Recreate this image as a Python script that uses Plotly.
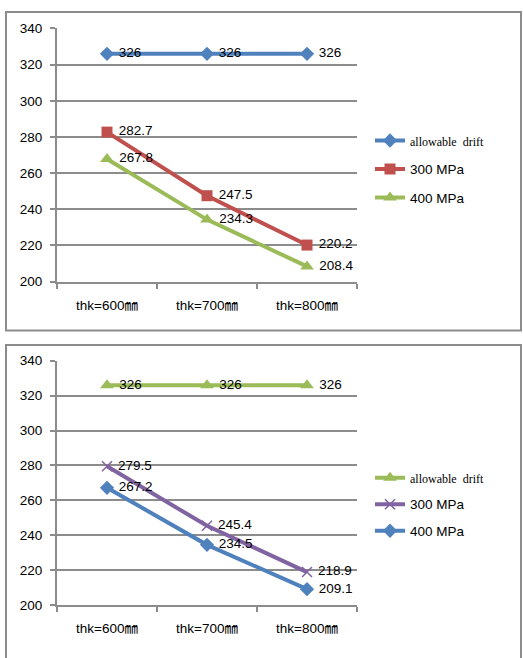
import plotly.graph_objects as go

W, H = 523, 658

categories = ["thk=600㎜", "thk=700㎜", "thk=800㎜"]
y_ticks = [200, 220, 240, 260, 280, 300, 320, 340]

# upper chart
top_allowable = [326, 326, 326]
top_300 = [282.7, 247.5, 220.2]
top_400 = [267.8, 234.3, 208.4]

# lower chart
bot_allowable = [326, 326, 326]
bot_300 = [279.5, 245.4, 218.9]
bot_400 = [267.2, 234.5, 209.1]

BLUE = "#4F81BD"
RED = "#C0504D"
GREEN = "#9BBB59"
PURPLE = "#8064A2"
GRAY = "#8C8C8C"
FONT = "Liberation Sans, Arial, sans-serif"

SERIF_NAME = '<span style="font-family:Liberation Serif, Times New Roman, serif;font-size:12px">allowable  drift</span>'


def px_x(p):
    return p / W


def px_y(p):
    return 1 - p / H


def series(x, y, name, color, symbol, size, xa, ya, legend, mline=None):
    marker = dict(symbol=symbol, size=size, color=color)
    if mline:
        marker["line"] = mline
    return go.Scatter(
        x=x, y=y, name=name, xaxis=xa, yaxis=ya, legend=legend,
        legendgroup=legend + name,
        mode="lines+markers+text",
        line=dict(color=color, width=4),
        marker=marker,
        text=["\u00a0" + f"{v:g}" for v in y],
        textposition="middle right",
        textfont=dict(family=FONT, size=13.5, color="#000"),
        cliponaxis=False,
    )


fig = go.Figure()
fig.add_trace(series(categories, top_allowable, SERIF_NAME, BLUE, "diamond", 11, "x", "y", "legend"))
fig.add_trace(series(categories, top_300, "300 MPa", RED, "square", 11, "x", "y", "legend"))
fig.add_trace(series(categories, top_400, "400 MPa", GREEN, "triangle-up", 12, "x", "y", "legend"))

fig.add_trace(series(categories, bot_allowable, SERIF_NAME, GREEN, "triangle-up", 12, "x2", "y2", "legend2"))
fig.add_trace(series(categories, bot_300, "300 MPa", PURPLE, "x-thin-open", 10, "x2", "y2", "legend2",
                     mline=dict(color=PURPLE, width=1.5)))
fig.add_trace(series(categories, bot_400, "400 MPa", BLUE, "diamond", 11, "x2", "y2", "legend2"))

xdom = [px_x(57), px_x(357)]
xaxis_common = dict(
    domain=xdom, type="category", range=[-0.5, 2.5],
    tickson="boundaries", ticks="outside", ticklen=5, tickcolor=GRAY, tickwidth=2,
    showline=True, linecolor=GRAY, linewidth=2, showgrid=False, zeroline=False,
    tickfont=dict(family="Liberation Sans, Noto Sans CJK JP, sans-serif", size=13.5, color="#000"),
    ticklabelstandoff=10, fixedrange=True,
)
yaxis_common = dict(
    range=[200, 340], tickvals=y_ticks, ticks="outside", ticklen=5, tickcolor=GRAY, tickwidth=2,
    showline=True, linecolor=GRAY, linewidth=2, showgrid=True, gridcolor=GRAY, gridwidth=2,
    zeroline=False, tickfont=dict(family=FONT, size=13.5, color="#000"),
    ticklabelstandoff=5, fixedrange=True,
)

fig.update_layout(
    width=W, height=H,
    margin=dict(l=0, r=0, t=0, b=0),
    paper_bgcolor="white", plot_bgcolor="white",
    xaxis=dict(**xaxis_common, anchor="y"),
    yaxis=dict(**yaxis_common, domain=[px_y(281), px_y(22)], anchor="x"),
    xaxis2=dict(**xaxis_common, anchor="y2"),
    yaxis2=dict(**yaxis_common, domain=[px_y(612), px_y(362)], anchor="x2"),
    legend=dict(x=px_x(370), y=px_y(121), xanchor="left", yanchor="top",
                font=dict(family=FONT, size=13.5, color="#000"), bgcolor="rgba(0,0,0,0)",
                itemwidth=30, tracegroupgap=8),
    legend2=dict(x=px_x(370), y=px_y(466), xanchor="left", yanchor="top",
                 font=dict(family=FONT, size=13.5, color="#000"), bgcolor="rgba(0,0,0,0)",
                 itemwidth=30, tracegroupgap=6),
    shapes=[
        dict(type="rect", xref="paper", yref="paper", x0=px_x(6), x1=px_x(521), y0=px_y(331), y1=px_y(5),
             line=dict(color=GRAY, width=2), layer="below"),
        dict(type="rect", xref="paper", yref="paper", x0=px_x(6), x1=px_x(521), y0=px_y(670), y1=px_y(346),
             line=dict(color=GRAY, width=2), layer="below"),
    ],
)

fig.write_html("out.html")
